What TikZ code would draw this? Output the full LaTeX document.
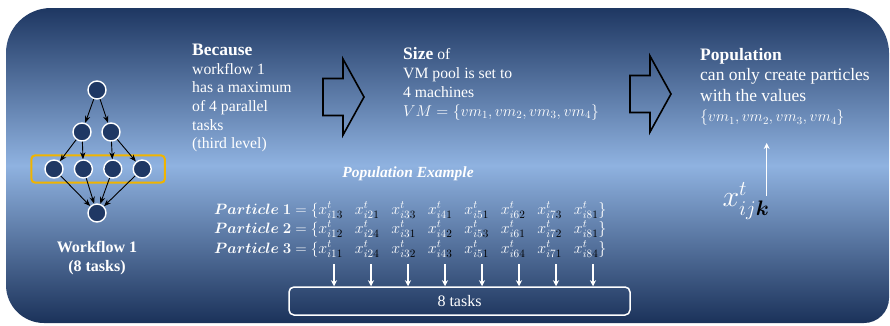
\RequirePackage{fix-cm}
\documentclass[tikz,border=0pt]{standalone}
\usepackage{amsmath, amssymb}
\usepackage{bm}
\usepackage{fontspec}
\setmainfont{Liberation Serif}
\usepackage{xcolor}
\usetikzlibrary{arrows.meta, positioning, calc, fit}

\definecolor{bgtop}{RGB}{30,55,98}
\definecolor{bglight}{RGB}{143,178,224}
\definecolor{bgbot}{RGB}{27,50,90}
\definecolor{tasknavy}{RGB}{31,56,100}
\definecolor{hlorange}{RGB}{240,180,0}

% one particle entry, last index (vm) in black
\newcommand{\xvar}[2]{\makebox[36.5pt][l]{\fontsize{16}{19}\selectfont$x^{t}_{i#1\textcolor{black}{#2}}$}}
\newcommand{\xend}[2]{{\fontsize{16}{19}\selectfont$x^{t}_{i#1\textcolor{black}{#2}}\}$}}

\begin{document}
\begin{tikzpicture}[x=1pt, y=1pt, >=Stealth, node distance=10pt,
    task/.style={circle, draw=white, line width=1.4pt, fill=tasknavy, minimum size=18pt, inner sep=0pt},
    edge/.style={->, black, line width=0.9pt},
    txt/.style={text=white, inner sep=0pt, align=left, anchor=north west},
    prow/.style={text=white, inner sep=0pt, anchor=base west, font=\fontsize{15}{19}\selectfont},
    wharrow/.style={-{Stealth[length=6pt, width=6pt]}, white, line width=1.2pt},
    blockarr/.pic={
        \draw[black, line width=1.6pt, line join=miter] (0,-18.5) -- (20,-18.5) -- (20,-38) -- (41,0)
            -- (20,38) -- (20,18.5) -- (0,18.5) -- cycle;
    }]

    \useasboundingbox (0,0) rectangle (890,325);
    \shade[top color=bgtop, bottom color=bgbot, middle color=bglight]
        (6,40) -- (6,272) arc[start angle=180, end angle=90, radius=45pt] -- (844,317)
        arc[start angle=90, end angle=0, radius=45pt] -- (889,27)
        arc[start angle=0, end angle=-90, radius=25pt] -- (44,2)
        arc[start angle=270, end angle=180, radius=38pt] -- cycle;

    % workflow graph
    \node[task] (t1) at (97,235) {};
    \node[task] (t2) at (82,193) {};
    \node[task] (t3) at (111,193) {};
    \node[task] (t4) at (54,156) {};
    \node[task, right=of t4] (t5) {};
    \node[task, right=of t5] (t6) {};
    \node[task, right=of t6] (t7) {};
    \node[task] (t8) at (97,112) {};
    \node[draw=hlorange, line width=2pt, rounded corners=4pt, inner xsep=13pt, inner ysep=4pt, fit=(t4)(t7)] (level3) {};

    \foreach \a/\b in {t1/t2, t1/t3, t2/t4, t2/t5, t3/t6, t3/t7, t4/t8, t5/t8, t6/t8, t7/t8}
        \draw[edge] (\a) -- (\b);

    \node[below=18pt of t8, text=white, inner sep=0pt, align=center, font=\bfseries\fontsize{16}{19}\selectfont] (wfname) {Workflow 1\\(8 tasks)};

    % explanation
    \node[txt, font=\fontsize{15.7}{18.6}\selectfont] (because) at (192,281)
        {{\bfseries\fontsize{17.5}{18.6}\selectfont Because}\\workflow 1\\has a maximum\\of 4 parallel\\tasks\\(third level)};
    \node[txt, font=\fontsize{15.7}{19}\selectfont] (vmsize) at (403,278)
        {{\bfseries\fontsize{17.5}{19}\selectfont Size} of\\VM pool is set to\\4 machines\\$VM=\{vm_1,vm_2,vm_3,vm_4\}$};
    \node[txt, font=\fontsize{17.5}{20.5}\selectfont] (pop) at (700,277)
        {\textbf{Population}\\can only create particles\\with the values\\{\fontsize{15.5}{20.5}\selectfont$\{vm_1,vm_2,vm_3,vm_4\}$}};

    \pic at (323,228) {blockarr};
    \pic at (630,231) {blockarr};

    % population example
    \node[text=white, inner sep=0pt, font=\bfseries\itshape\fontsize{15.5}{18}\selectfont] (popex) at (408,151) {Population Example};
    \node[prow] (part1) at (214,111) {$\bm{Particle\ 1} = \{$\xvar13\xvar21\xvar33\xvar41\xvar51\xvar62\xvar73\xend81};
    \node[prow] (part2) at (214,91.5) {$\bm{Particle\ 2} = \{$\xvar12\xvar24\xvar31\xvar42\xvar53\xvar61\xvar72\xend81};
    \node[prow] (part3) at (214,72) {$\bm{Particle\ 3} = \{$\xvar11\xvar24\xvar32\xvar43\xvar51\xvar64\xvar71\xend84};

    \node[draw=white, line width=1.5pt, rounded corners=5pt, minimum width=341pt, minimum height=28pt, text=white, font=\fontsize{16}{19}\selectfont] (tasks) at (459.5,24) {8 tasks};
    \foreach \k in {1,...,8} {
        \coordinate (d\k) at ({297+37*\k},61);
        \draw[wharrow] (d\k) -- (d\k |- tasks.north);
    }

    % decision variable
    \node[text=white, inner sep=0pt, font=\fontsize{30}{30}\selectfont] (xijk) at (746,124) {$x^{t}_{ij\textcolor{black}{\bm{k}}}$};
    \draw[wharrow] ($(xijk.east)+(-3,5)$) -- ++(0,53);
\end{tikzpicture}
\end{document}
